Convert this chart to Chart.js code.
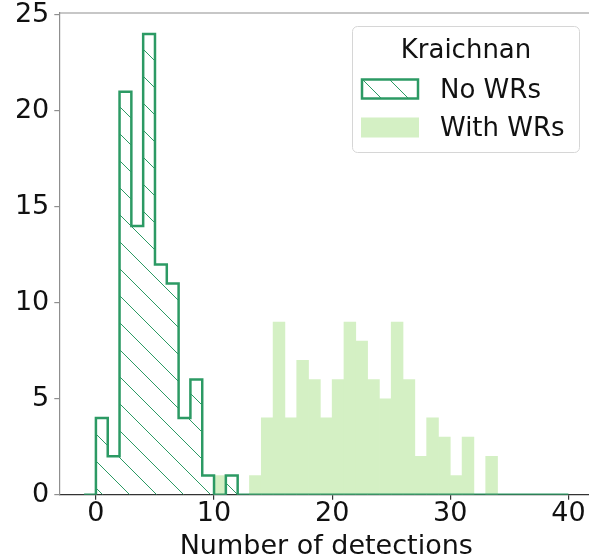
<!DOCTYPE html>
<html>
<head>
<meta charset="utf-8">
<title>Number of detections – Kraichnan</title>
<script src="https://cdn.jsdelivr.net/npm/chart.js@4.4.1/dist/chart.umd.min.js"></script>
<style>
  html, body { margin: 0; padding: 0; background: #fff; overflow: hidden; }
  canvas { display: block; }
</style>
</head>
<body>
<canvas id="hist" width="600" height="560"></canvas>
<script>
// Histogram bin edges (unit-width bins)
const binEdges = [-1, 0, 1, 2, 3, 4, 5, 6, 7, 8, 9, 10, 11, 12, 13, 14, 15, 16, 17, 18, 19,
                  20, 21, 22, 23, 24, 25, 26, 27, 28, 29, 30, 31, 32, 33, 34, 35, 36, 37, 38, 39, 40];

// Counts per bin, one value per interval [edge_i, edge_i+1)
const noWRsCounts = [0, 4, 2, 21, 14, 24, 12, 11, 4, 6, 1, 0, 1, 0, 0, 0, 0, 0, 0, 0,
                     0, 0, 0, 0, 0, 0, 0, 0, 0, 0, 0, 0, 0, 0, 0, 0, 0, 0, 0, 0, 0];
const withWRsCounts = [0, 0, 0, 0, 0, 0, 0, 0, 0, 0, 0, 1, 0, 0, 1, 4, 9, 4, 7, 6,
                       4, 6, 9, 8, 6, 5, 9, 6, 2, 4, 3, 1, 3, 0, 2, 0, 0, 0, 0, 0, 0];

// Axis ticks and texts
const xTickValues = [0, 10, 20, 30, 40];
const yTickValues = [0, 5, 10, 15, 20, 25];
const seriesNames = ['No WRs', 'With WRs'];
const legendTitle = 'Kraichnan';
const xAxisTitle = 'Number of detections';

const FONT = 'DejaVu Sans';
const DARK_GREEN = '#2c9a64';
const LIGHT_GREEN = '#d4f0c4';
const SPINE_GREY = '#8f8f8f';
const TEXT = '#111111';

const canvas = document.getElementById('hist');
const ctx = canvas.getContext('2d');

// Diagonal "\\" hatch pattern
function makeHatch(size, phase) {
  const tile = document.createElement('canvas');
  tile.width = size;
  tile.height = size;
  const g = tile.getContext('2d');
  g.strokeStyle = DARK_GREEN;
  g.lineWidth = 1;
  g.beginPath();
  g.moveTo(-2, -2); g.lineTo(size + 2, size + 2);
  g.moveTo(-2, size - 2); g.lineTo(2, size + 2);
  g.moveTo(size - 2, -2); g.lineTo(size + 2, 2);
  g.stroke();
  const p = ctx.createPattern(tile, 'repeat');
  p.setTransform(new DOMMatrix([1, 0, 0, 1, 0, phase]));
  return p;
}
const hatch = makeHatch(27, 14);

// Step outline points: each count holds until the next edge
const stepPoints = noWRsCounts.map((c, i) => ({ x: binEdges[i], y: c }));
stepPoints.push({ x: binEdges[binEdges.length - 1], y: 0 });

// Filled bars at bin centres
const barPoints = withWRsCounts
  .map((c, i) => ({ x: (binEdges[i] + binEdges[i + 1]) / 2, y: c }))
  .filter(d => d.y > 0);

// Top spine and the boxed key
const frameAndKey = {
  id: 'frameAndKey',
  afterDraw(chart) {
    const c = chart.ctx;
    const a = chart.chartArea;
    c.save();
    c.strokeStyle = SPINE_GREY;
    c.lineWidth = 1.2;
    c.beginPath();
    c.moveTo(a.left, a.top);
    c.lineTo(a.right, a.top);
    c.stroke();

    // key box
    c.beginPath();
    c.roundRect(352.5, 26.5, 227, 126, 5);
    c.fillStyle = 'rgba(255,255,255,0.8)';
    c.fill();
    c.strokeStyle = '#d6d6d6';
    c.lineWidth = 1;
    c.stroke();

    c.fillStyle = TEXT;
    c.font = '26px "' + FONT + '"';
    c.textBaseline = 'alphabetic';
    c.textAlign = 'center';
    c.fillText(legendTitle, 466, 57.5);

    // hatched entry
    c.fillStyle = '#ffffff';
    c.fillRect(362, 79.5, 56, 19);
    c.fillStyle = hatch;
    c.fillRect(362, 79.5, 56, 19);
    c.strokeStyle = DARK_GREEN;
    c.lineWidth = 2.5;
    c.strokeRect(362, 79.5, 56, 19);

    // filled entry
    c.fillStyle = LIGHT_GREEN;
    c.fillRect(361, 117.5, 58, 20);

    c.fillStyle = TEXT;
    c.textAlign = 'left';
    c.fillText(seriesNames[0], 440, 97.5);
    c.fillText(seriesNames[1], 440, 135.5);
    c.restore();
  }
};

new Chart(ctx, {
  type: 'bar',
  data: {
    datasets: [
      {
        type: 'line',
        label: seriesNames[0],
        data: stepPoints,
        stepped: 'before',
        borderColor: DARK_GREEN,
        borderWidth: 2.5,
        borderJoinStyle: 'miter',
        borderCapStyle: 'butt',
        backgroundColor: hatch,
        fill: 'origin',
        pointRadius: 0,
        tension: 0,
        order: 0
      },
      {
        type: 'bar',
        label: seriesNames[1],
        data: barPoints,
        backgroundColor: LIGHT_GREEN,
        borderWidth: 0,
        barPercentage: 1.0,
        categoryPercentage: 1.0,
        order: 1
      }
    ]
  },
  options: {
    responsive: false,
    animation: false,
    devicePixelRatio: 1,
    layout: { padding: { top: 13, right: 6.8, left: 0, bottom: 0 } },
    plugins: {
      legend: { display: false },
      tooltip: { enabled: false }
    },
    scales: {
      x: {
        type: 'linear',
        min: -3.1,
        max: 42.1,
        offset: false,
        afterBuildTicks: s => { s.ticks = xTickValues.map(v => ({ value: v })); },
        afterFit: s => { s.height = 65.3; },
        grid: { display: true, offset: false, drawOnChartArea: false, drawTicks: true, tickLength: 5, color: '#333333', lineWidth: 1.2 },
        border: { display: true, color: '#333333', width: 1.2 },
        ticks: { font: { family: FONT, size: 27, lineHeight: 1 }, color: TEXT, padding: 1, maxRotation: 0, autoSkip: false },
        title: { display: true, text: xAxisTitle, color: TEXT, font: { family: FONT, size: 27, lineHeight: 1 }, padding: { top: 0, bottom: 0 } }
      },
      y: {
        type: 'linear',
        min: 0,
        max: 25.1,
        afterBuildTicks: s => { s.ticks = yTickValues.map(v => ({ value: v })); },
        afterFit: s => { s.width = 59.3; },
        grid: { display: true, offset: false, drawOnChartArea: false, drawTicks: true, tickLength: 5, color: SPINE_GREY, lineWidth: 1.2 },
        border: { display: true, color: SPINE_GREY, width: 1.2 },
        ticks: { font: { family: FONT, size: 27, lineHeight: 0.55 }, color: TEXT, padding: 5, autoSkip: false }
      }
    }
  },
  plugins: [frameAndKey]
});
</script>
</body>
</html>
